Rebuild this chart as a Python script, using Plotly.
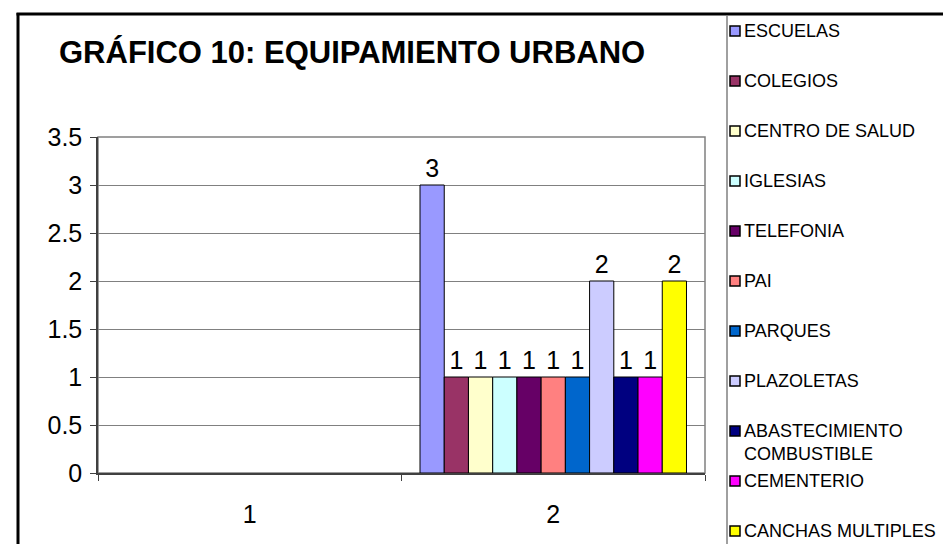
import plotly.graph_objects as go

# ---- data ----
categories = ["1", "2"]
series_names = ["ESCUELAS", "COLEGIOS", "CENTRO DE SALUD", "IGLESIAS", "TELEFONIA",
                "PAI", "PARQUES", "PLAZOLETAS", "ABASTECIMIENTO<br>COMBUSTIBLE",
                "CEMENTERIO", "CANCHAS MULTIPLES"]
series_cat1 = [None] * 11
series_cat2 = [3, 1, 1, 1, 1, 1, 1, 2, 1, 1, 2]
series_colors = ["#9999FF", "#993366", "#FFFFCC", "#CCFFFF", "#660066", "#FF8080",
                 "#0066CC", "#CCCCFF", "#000080", "#FF00FF", "#FFFF00"]
y_ticks = [0, 0.5, 1, 1.5, 2, 2.5, 3, 3.5]
title_text = "GRÁFICO 10: EQUIPAMIENTO URBANO"

W, H = 951, 544
PL, PR, PT, PB = 90, 697, 129, 465
FONT = "Arial, Liberation Sans, sans-serif"


def px2x(px):
    return (px - PL) / (PR - PL)


def py2y(py):
    return (PB - py) / (PB - PT)


fig = go.Figure()
for name, c1, c2, col in zip(series_names, series_cat1, series_cat2, series_colors):
    fig.add_trace(go.Bar(
        x=categories, y=[c1, c2], name=name.replace("<br>", " "),
        marker=dict(color=col, line=dict(color="black", width=1)),
        texttemplate="%{y}", textposition="outside", constraintext="none",
        textfont=dict(size=25, color="black", family=FONT),
        cliponaxis=False, showlegend=False,
    ))

shapes = []
# plot-area border
shapes.append(dict(type="rect", xref="paper", yref="paper", x0=0, y0=0, x1=1, y1=1,
                   line=dict(color="#808080", width=1.5), layer="below"))
# outer chart border (left and top)
shapes.append(dict(type="line", xref="paper", yref="paper",
                   x0=px2x(10), x1=px2x(10), y0=py2y(5), y1=py2y(560),
                   line=dict(color="black", width=3)))
shapes.append(dict(type="line", xref="paper", yref="paper",
                   x0=px2x(8.5), x1=px2x(960), y0=py2y(6), y1=py2y(6),
                   line=dict(color="black", width=3)))
# legend separator
shapes.append(dict(type="line", xref="paper", yref="paper",
                   x0=px2x(719), x1=px2x(719), y0=py2y(7), y1=py2y(560),
                   line=dict(color="#808080", width=1.5)))

annotations = [dict(text="<b>" + title_text + "</b>", xref="paper", yref="paper",
                    x=px2x(49), y=py2y(44), xanchor="left", yanchor="middle",
                    showarrow=False, font=dict(size=31, color="black", family=FONT))]

# legend (drawn as keys + text)
for i, (name, col) in enumerate(zip(series_names, series_colors)):
    cy = 23 + 50 * i
    shapes.append(dict(type="rect", xref="paper", yref="paper",
                       x0=px2x(722), x1=px2x(732), y0=py2y(cy - 5), y1=py2y(cy + 5),
                       fillcolor=col, line=dict(color="black", width=1.5)))
    annotations.append(dict(text=name, xref="paper", yref="paper",
                            x=px2x(734), y=py2y(cy - 12), xanchor="left", yanchor="top",
                            align="left", showarrow=False,
                            font=dict(size=18, color="black", family=FONT)))

fig.update_layout(
    width=W, height=H,
    margin=dict(l=PL, r=W - PR, t=PT, b=H - PB, pad=0),
    paper_bgcolor="white", plot_bgcolor="white",
    barmode="group", bargap=0.122, bargroupgap=0,
    showlegend=False,
    shapes=shapes, annotations=annotations,
    font=dict(family=FONT, color="black"),
    xaxis=dict(type="category", categoryorder="array", categoryarray=categories,
               range=[-0.5, 1.5], tickson="boundaries", ticks="outside", ticklen=6,
               tickcolor="#404040", showline=True, linecolor="#404040", linewidth=1.5,
               showgrid=False, tickfont=dict(size=25, family=FONT, color="black"),
               ticklabelstandoff=18),
    yaxis=dict(range=[0, 3.5], tickvals=y_ticks, ticks="outside", ticklen=6,
               tickcolor="#404040", showline=True, linecolor="#404040", linewidth=1.5,
               showgrid=True, gridcolor="#808080", gridwidth=1, zeroline=False,
               ticklabelstandoff=3,
               tickfont=dict(size=25, family=FONT, color="black")),
)

fig.write_html("out.html")
